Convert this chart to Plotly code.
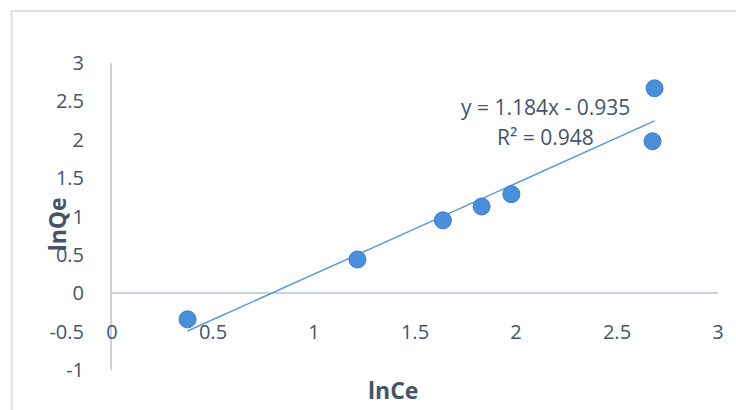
import numpy as np
import plotly.graph_objects as go

# Data
lnCe = [0.374, 1.215, 1.638, 1.830, 1.977, 2.686, 2.676]
lnQe = [-0.34, 0.44, 0.95, 1.13, 1.29, 2.67, 1.98]
slope = 1.184
intercept = -0.935
r2 = 0.948
x_ticks = [0, 0.5, 1, 1.5, 2, 2.5, 3]
x_tick_text = ["0", "0.5", "1", "1.5", "2", "2.5", "3"]
y_ticks = [-1, -0.5, 0, 0.5, 1, 1.5, 2, 2.5, 3]
y_tick_text = ["-1", "-0.5", "0", "0.5", "1", "1.5", "2", "2.5", "3"]
x_title = "lnCe"
y_title = "lnQe"

FONT = "Open Sans"
TXT = "#44546A"
AXC = "#C9D3DE"

x_fit = np.array([min(lnCe), max(lnCe)])
y_fit = slope * x_fit + intercept

fig = go.Figure()
fig.add_trace(go.Scatter(
    x=x_fit, y=y_fit, mode="lines",
    line=dict(color="#5B9BD5", width=1.5),
    showlegend=False, hoverinfo="skip"))
fig.add_trace(go.Scatter(
    x=lnCe, y=lnQe, mode="markers",
    marker=dict(size=17, color="#4A8FDB", line=dict(color="#3C7CC6", width=1)),
    showlegend=False))

fig.update_layout(
    width=736, height=410,
    margin=dict(l=112, r=14, t=63, b=40),
    paper_bgcolor="white", plot_bgcolor="white",
    font=dict(family=FONT, size=20, color=TXT),
    xaxis=dict(
        range=[0, 3], tickvals=x_ticks, ticktext=x_tick_text,
        showgrid=False, zeroline=False, showline=False, ticks="",
        anchor="free", position=0.17, ticklabelstandoff=0,
        tickfont=dict(family=FONT, size=20, color=TXT),
    ),
    yaxis=dict(
        range=[-1, 3], tickvals=y_ticks, ticktext=y_tick_text,
        showgrid=False, zeroline=True, zerolinecolor=AXC, zerolinewidth=2,
        showline=True, linecolor=AXC, linewidth=2, ticks="",
        ticklabelstandoff=22,
        tickfont=dict(family=FONT, size=20, color=TXT),
    ),
    shapes=[dict(type="rect", xref="paper", yref="paper",
                 x0=-0.1656, x1=1.1, y0=-0.3, y1=1.169,
                 line=dict(color="#DCE0E5", width=2), layer="below")],
    annotations=[
        dict(text=f"y = {slope:.3f}x - {abs(intercept):.3f}", x=548, y=107,
             font=dict(family=FONT, size=21, color=TXT)),
        dict(text=f"R² = {r2:.3f}", x=548, y=137,
             font=dict(family=FONT, size=21, color=TXT)),
        dict(text=f"<b>{x_title}</b>", x=395, y=390,
             font=dict(family=FONT, size=23, color=TXT)),
        dict(text=f"<b>{y_title}</b>", x=57, y=224, textangle=-90,
             font=dict(family=FONT, size=23, color=TXT)),
    ],
)

# convert pixel-positioned annotations to paper coords
pl, pr, pt, pb = 112, 736 - 14, 63, 410 - 40
for a in fig.layout.annotations:
    px, py = a.x, a.y
    a.x = (px - pl) / (pr - pl)
    a.y = (pb - py) / (pb - pt)
    a.xref = "paper"
    a.yref = "paper"
    a.xanchor = "center"
    a.yanchor = "middle"
    a.showarrow = False

fig.write_html("out.html")
